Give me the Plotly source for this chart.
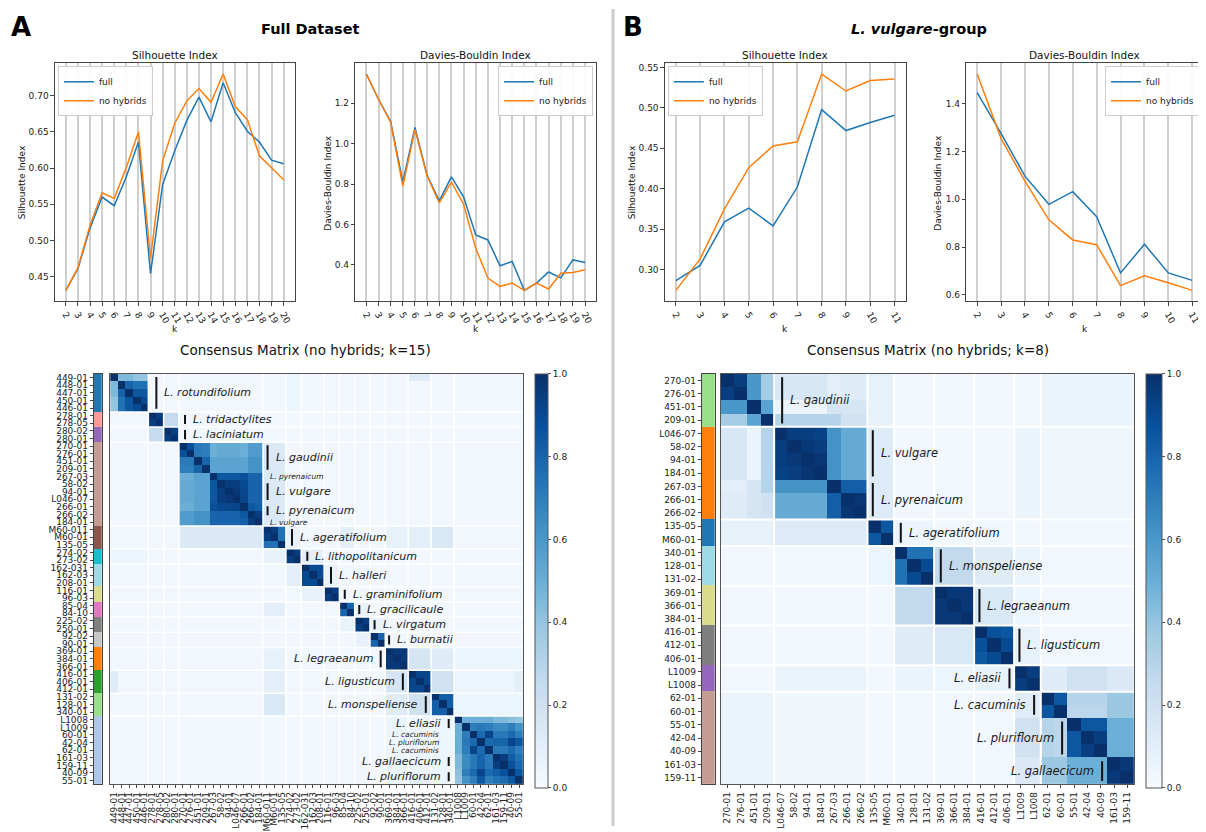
import numpy as np
import plotly.graph_objects as go

# ---------------- line-chart data ----------------
k_full = list(range(2, 21))
sil_full_A = [0.431, 0.461, 0.517, 0.560, 0.548, 0.588, 0.636, 0.454, 0.577, 0.624, 0.666, 0.698, 0.664, 0.718,
              0.677, 0.651, 0.636, 0.611, 0.606]
sil_nohyb_A = [0.431, 0.462, 0.521, 0.566, 0.558, 0.601, 0.650, 0.475, 0.610, 0.662, 0.693, 0.710, 0.691, 0.730,
               0.685, 0.667, 0.617, 0.601, 0.584]
db_full_A = [1.345, 1.220, 1.110, 0.810, 1.080, 0.843, 0.717, 0.835, 0.737, 0.548, 0.523, 0.395, 0.416, 0.273,
             0.309, 0.364, 0.335, 0.424, 0.411]
db_nohyb_A = [1.345, 1.220, 1.105, 0.790, 1.070, 0.840, 0.707, 0.810, 0.700, 0.482, 0.334, 0.293, 0.309, 0.273,
              0.309, 0.280, 0.358, 0.362, 0.375]

k_vulg = list(range(2, 12))
sil_full_B = [0.286, 0.305, 0.359, 0.376, 0.354, 0.402, 0.498, 0.472, 0.482, 0.491]
sil_nohyb_B = [0.274, 0.313, 0.375, 0.426, 0.453, 0.458, 0.542, 0.521, 0.534, 0.536]
db_full_B = [1.446, 1.276, 1.097, 0.979, 1.032, 0.927, 0.692, 0.812, 0.692, 0.661]
db_nohyb_B = [1.524, 1.255, 1.076, 0.914, 0.830, 0.810, 0.639, 0.680, 0.651, 0.619]

# ---------------- consensus matrix A (k=15) ----------------
labels_A = ["449-01", "448-01", "447-01", "450-01", "446-01", "278-01", "278-05", "280-02", "280-01",
            "270-01", "276-01", "451-01", "209-01", "267-03", "58-02", "94-01", "L046-07", "266-01", "266-02",
            "184-01", "M60-011", "M60-01", "135-05", "274-02", "273-02", "162-031", "162-03", "208-01",
            "116-01", "96-03", "85-04", "84-10", "225-02", "250-01", "92-02", "90-01", "369-01", "384-01",
            "366-01", "416-01", "406-01", "412-01", "131-02", "128-01", "340-01", "L1008", "L1009", "60-01",
            "42-04", "62-01", "161-03", "159-11", "40-09", "55-01"]
sizes_A = [5, 2, 2, 11, 3, 2, 3, 2, 2, 2, 2, 3, 3, 3, 9]
base_A = 0.03
within_A = {
    0: [[1.00, 0.45, 0.45, 0.40, 0.40], [0.45, 1.00, 0.80, 0.75, 0.75], [0.45, 0.80, 1.00, 0.85, 0.85],
        [0.40, 0.75, 0.85, 1.00, 0.90], [0.40, 0.75, 0.85, 0.90, 1.00]],
    1: (1.0, 0.95), 2: (1.0, 0.95),
    3: [[1.00, 0.88, 0.72, 0.70, 0.50, 0.52, 0.52, 0.52, 0.50, 0.58, 0.58],
        [0.88, 1.00, 0.72, 0.70, 0.50, 0.52, 0.52, 0.52, 0.50, 0.58, 0.58],
        [0.72, 0.72, 1.00, 0.80, 0.55, 0.55, 0.55, 0.55, 0.55, 0.62, 0.62],
        [0.70, 0.70, 0.80, 1.00, 0.55, 0.55, 0.55, 0.55, 0.55, 0.62, 0.62],
        [0.50, 0.50, 0.55, 0.55, 1.00, 0.85, 0.85, 0.85, 0.88, 0.80, 0.80],
        [0.52, 0.52, 0.55, 0.55, 0.85, 1.00, 0.95, 0.95, 0.90, 0.80, 0.80],
        [0.52, 0.52, 0.55, 0.55, 0.85, 0.95, 1.00, 0.97, 0.92, 0.80, 0.80],
        [0.52, 0.52, 0.55, 0.55, 0.85, 0.95, 0.97, 1.00, 0.92, 0.80, 0.80],
        [0.50, 0.50, 0.55, 0.55, 0.88, 0.90, 0.92, 0.92, 1.00, 0.85, 0.82],
        [0.58, 0.58, 0.62, 0.62, 0.80, 0.80, 0.80, 0.80, 0.85, 1.00, 0.95],
        [0.58, 0.58, 0.62, 0.62, 0.80, 0.80, 0.80, 0.80, 0.82, 0.95, 1.00]],
    4: [[1.0, 0.95, 0.75], [0.95, 1.0, 0.75], [0.75, 0.75, 1.0]],
    5: (1.0, 0.95), 6: (1.0, 0.90), 7: (1.0, 0.95), 8: (1.0, 0.80), 9: (1.0, 0.95), 10: (1.0, 0.80),
    11: (1.0, 0.97), 12: (1.0, 0.92), 13: (1.0, 0.82),
    14: [[1.00, 0.50, 0.50, 0.50, 0.50, 0.45, 0.45, 0.42, 0.40],
         [0.50, 1.00, 0.70, 0.72, 0.70, 0.65, 0.65, 0.70, 0.62],
         [0.50, 0.70, 1.00, 0.78, 0.92, 0.72, 0.72, 0.78, 0.70],
         [0.50, 0.72, 0.78, 1.00, 0.78, 0.80, 0.80, 0.92, 0.85],
         [0.50, 0.70, 0.92, 0.78, 1.00, 0.72, 0.72, 0.78, 0.70],
         [0.45, 0.65, 0.72, 0.80, 0.72, 1.00, 0.95, 0.82, 0.75],
         [0.45, 0.65, 0.72, 0.80, 0.72, 0.95, 1.00, 0.88, 0.78],
         [0.42, 0.70, 0.78, 0.92, 0.78, 0.82, 0.88, 1.00, 0.85],
         [0.40, 0.62, 0.70, 0.85, 0.70, 0.75, 0.78, 0.85, 1.00]],
}
between_A = {(1, 2): 0.25, (3, 4): 0.14, (4, 5): 0.07, (5, 6): 0.10, (6, 7): 0.07, (4, 8): 0.10, (8, 9): 0.07,
             (9, 10): 0.07, (11, 12): 0.17, (11, 13): 0.12, (12, 13): 0.20, (4, 11): 0.08, (4, 12): 0.10,
             (4, 13): 0.15, (12, 14): 0.05, (13, 14): 0.05, (11, 14): 0.05, (0, 5): 0.05}
overrides_A = [("449-01", 12, 0.12), ("55-01", 12, 0.10)]

# name, first row, last row, bar column (cell edges), side, size
notes_A = [("L. rotundifolium", 0, 4, 6.05, "r", "big"), ("L. tridactylites", 5, 6, 9.8, "r", "big"),
           ("L. laciniatum", 7, 8, 9.8, "r", "big"), ("L. gaudinii", 9, 12, 20.6, "r", "big"),
           ("L. pyrenaicum", 13, 13, 20.6, "r", "small"), ("L. vulgare", 14, 16, 20.6, "r", "big"),
           ("L. pyrenaicum", 17, 18, 20.6, "r", "big"), ("L. vulgare", 19, 19, 20.6, "r", "small"),
           ("L. ageratifolium", 20, 22, 23.8, "r", "big"), ("L. lithopolitanicum", 23, 24, 25.8, "r", "big"),
           ("L. halleri", 25, 27, 28.9, "r", "big"), ("L. graminifolium", 28, 29, 30.7, "r", "big"),
           ("L. gracilicaule", 30, 31, 32.6, "r", "big"), ("L. virgatum", 32, 33, 34.6, "r", "big"),
           ("L. burnatii", 34, 35, 36.5, "r", "big"), ("L. legraeanum", 36, 38, 35.4, "l", "big"),
           ("L. ligusticum", 39, 41, 38.3, "l", "big"), ("L. monspeliense", 42, 44, 41.3, "l", "big"),
           ("L. eliasii", 45, 46, 44.3, "l", "big"), ("L. cacuminis", 47, 47, 44.3, "l", "small"),
           ("L. pluriflorum", 48, 48, 44.3, "l", "small"), ("L. cacuminis", 49, 49, 44.3, "l", "small"),
           ("L. gallaecicum", 50, 51, 44.3, "l", "big"), ("L. pluriflorum", 52, 53, 44.3, "l", "big")]

# ---------------- consensus matrix B (k=8) ----------------
labels_B = ["270-01", "276-01", "451-01", "209-01", "L046-07", "58-02", "94-01", "184-01", "267-03", "266-01",
            "266-02", "135-05", "M60-01", "340-01", "128-01", "131-02", "369-01", "366-01", "384-01", "416-01",
            "412-01", "406-01", "L1009", "L1008", "62-01", "60-01", "55-01", "42-04", "40-09", "161-03", "159-11"]
sizes_B = [4, 7, 2, 3, 3, 3, 2, 7]
base_B = 0.03
within_B = {
    0: [[1.00, 0.95, 0.60, 0.35], [0.95, 1.00, 0.60, 0.35], [0.60, 0.60, 1.00, 0.55], [0.35, 0.35, 0.55, 1.00]],
    1: [[1.00, 0.95, 0.95, 0.93, 0.62, 0.52, 0.52],
        [0.95, 1.00, 0.97, 0.95, 0.62, 0.52, 0.52],
        [0.95, 0.97, 1.00, 0.98, 0.62, 0.52, 0.52],
        [0.93, 0.95, 0.98, 1.00, 0.62, 0.52, 0.52],
        [0.62, 0.62, 0.62, 0.62, 1.00, 0.82, 0.82],
        [0.52, 0.52, 0.52, 0.52, 0.82, 1.00, 0.98],
        [0.52, 0.52, 0.52, 0.52, 0.82, 0.98, 1.00]],
    2: [[1.0, 0.85], [0.85, 1.0]],
    3: [[1.0, 0.75, 0.75], [0.75, 1.0, 0.90], [0.75, 0.90, 1.0]],
    4: (1.0, 0.97),
    5: [[1.0, 0.88, 0.85], [0.88, 1.0, 0.90], [0.85, 0.90, 1.0]],
    6: (1.0, 0.95),
    7: [[1.00, 0.85, 0.30, 0.30, 0.30, 0.38, 0.38],
        [0.85, 1.00, 0.28, 0.28, 0.28, 0.38, 0.38],
        [0.30, 0.28, 1.00, 0.85, 0.85, 0.50, 0.50],
        [0.30, 0.28, 0.85, 1.00, 0.95, 0.50, 0.50],
        [0.30, 0.28, 0.85, 0.95, 1.00, 0.50, 0.50],
        [0.38, 0.38, 0.50, 0.50, 0.50, 1.00, 0.97],
        [0.38, 0.38, 0.50, 0.50, 0.50, 0.97, 1.00]],
}
between_B = {
    (0, 1): [[0.16, 0.16, 0.16, 0.16, 0.10, 0.12, 0.12], [0.16, 0.16, 0.16, 0.16, 0.10, 0.12, 0.12],
             [0.06, 0.06, 0.06, 0.06, 0.17, 0.17, 0.17], [0.30, 0.30, 0.30, 0.30, 0.30, 0.20, 0.20]],
    (0, 2): 0.08, (1, 2): 0.13, (0, 7): 0.06, (1, 6): 0.06, (1, 7): 0.04, (2, 3): 0.05, (3, 4): 0.26,
    (3, 5): 0.12, (3, 6): 0.06, (4, 5): 0.15, (4, 6): 0.05, (5, 6): 0.08,
    (6, 7): [[0.12, 0.12, 0.20, 0.20, 0.20, 0.14, 0.14], [0.12, 0.12, 0.20, 0.20, 0.20, 0.14, 0.14]],
}
notes_B = [("L. gaudinii", 0, 3, 4.6, "r"), ("L. vulgare", 4, 7, 11.4, "r"), ("L. pyrenaicum", 8, 10, 11.4, "r"),
           ("L. ageratifolium", 11, 12, 13.5, "r"), ("L. monspeliense", 13, 15, 16.5, "r"),
           ("L. legraeanum", 16, 18, 19.4, "r"), ("L. ligusticum", 19, 21, 22.4, "r"),
           ("L. eliasii", 22, 23, 21.65, "l"), ("L. cacuminis", 24, 25, 23.5, "l"),
           ("L. pluriflorum", 26, 28, 25.6, "l"), ("L. gallaecicum", 29, 30, 28.6, "l")]

# ---------------- styles ----------------
strip_colors_A = ["#1f77b4", "#ff9896", "#9467bd", "#c49c94", "#8c564b", "#17becf", "#9edae5", "#dbdb8d",
                  "#e377c2", "#7f7f7f", "#c7c7c7", "#ff7f0e", "#2ca02c", "#98df8a", "#aec7e8"]
strip_colors_B = ["#98df8a", "#ff7f0e", "#1f77b4", "#9edae5", "#dbdb8d", "#7f7f7f", "#9467bd", "#c49c94"]
BLUES = ['#f7fbff', '#deebf7', '#c6dbef', '#9ecae1', '#6baed6', '#4292c6', '#2171b5', '#08519c', '#08306b']
blues_scale = [[i / 8, c] for i, c in enumerate(BLUES)]
C_FULL, C_NOH = "#1f77b4", "#ff7f0e"
FONT = "DejaVu Sans"
OFF = 8  # page body margin
W, H = 1206 - OFF, 832 - OFF


def px(x):
    return (x - OFF) / W


def py(y):
    return 1 - (y - OFF) / H


def consensus(sizes, within, between, base, labels, overrides=()):
    n = sum(sizes)
    st = np.concatenate([[0], np.cumsum(sizes)]).astype(int)
    M = np.full((n, n), base, dtype=float)
    for (a, b), v in between.items():
        blk = np.broadcast_to(np.asarray(v, float), (sizes[a], sizes[b]))
        M[st[a]:st[a + 1], st[b]:st[b + 1]] = blk
        M[st[b]:st[b + 1], st[a]:st[a + 1]] = blk.T
    for g, v in within.items():
        if isinstance(v, tuple):
            blk = np.full((sizes[g], sizes[g]), v[1])
            np.fill_diagonal(blk, v[0])
        else:
            blk = np.asarray(v, float)
        M[st[g]:st[g + 1], st[g]:st[g + 1]] = blk
    for lab, g, v in overrides:
        i = labels.index(lab)
        M[i, st[g]:st[g + 1]] = v
        M[st[g]:st[g + 1], i] = v
    return M, st


def discrete(colors):
    n = len(colors)
    cs = []
    for i, c in enumerate(colors):
        cs += [[i / n, c], [(i + 1) / n, c]]
    return cs


def padded(*series):
    vals = np.concatenate([np.asarray(s, float) for s in series])
    lo, hi = vals.min(), vals.max()
    m = 0.05 * (hi - lo)
    return [lo - m, hi + m]


def ptext(text, x, y, size, color="#111", angle=0):
    return dict(text=text, x=px(x), y=py(y), xref="paper", yref="paper", showarrow=False, xanchor="center",
                yanchor="middle", textangle=angle, font=dict(size=size, color=color, family=FONT))


MA, stA = consensus(sizes_A, within_A, between_A, base_A, labels_A, overrides_A)
MB, stB = consensus(sizes_B, within_B, between_B, base_B, labels_B)

fig = go.Figure()
annotations = []
shapes = []

# ---------------- line charts ----------------
line_panels = [
    ("", k_full, sil_full_A, sil_nohyb_A, 54, 294, "legend", "l", "Silhouette Index", "Silhouette Index", ".2f", 21),
    ("2", k_full, db_full_A, db_nohyb_A, 355, 596, "legend2", "r", "Davies-Bouldin Index", "Davies-Bouldin Index",
     ".1f", 328),
    ("3", k_vulg, sil_full_B, sil_nohyb_B, 665, 906, "legend3", "l", "Silhouette Index", "Silhouette Index", ".2f",
     632),
    ("4", k_vulg, db_full_B, db_nohyb_B, 967, 1204, "legend4", "r", "Davies-Bouldin Index", "Davies-Bouldin Index",
     ".1f", 939),
]
ytick_sets = [
    [0.45, 0.50, 0.55, 0.60, 0.65, 0.70],
    [0.4, 0.6, 0.8, 1.0, 1.2],
    [0.30, 0.35, 0.40, 0.45, 0.50, 0.55],
    [0.6, 0.8, 1.0, 1.2, 1.4],
]
TOP, BOT = 62.7, 302.7
legend_layouts = {}
for (suf, ks, full, noh, x0, x1, leg, side, title, ylab, fmt, ylx), yt in zip(line_panels, ytick_sets):
    xa = "x" + suf
    ya = "y" + suf
    fig.add_trace(go.Scatter(x=ks, y=full, mode="lines", name="full", line=dict(color=C_FULL, width=1.5),
                             xaxis=xa, yaxis=ya, legend=leg, hoverinfo="skip"))
    fig.add_trace(go.Scatter(x=ks, y=noh, mode="lines", name="no hybrids", line=dict(color=C_NOH, width=1.5),
                             xaxis=xa, yaxis=ya, legend=leg, hoverinfo="skip"))
    xr = padded(ks)
    yr = padded(full, noh)
    fig.layout["xaxis" + suf] = dict(domain=[px(x0), px(x1)], range=xr, anchor=ya, tickvals=ks,
                                     ticktext=[str(k) for k in ks], tickangle=60, showgrid=True,
                                     gridcolor="#cfcfcf", gridwidth=1.5, zeroline=False, showline=True,
                                     mirror=True, linecolor="#444", linewidth=1, ticks="outside", ticklen=3.5,
                                     tickcolor="#444", tickfont=dict(size=9, color="#222", family=FONT))
    fig.layout["yaxis" + suf] = dict(domain=[py(BOT), py(TOP)], range=yr, anchor=xa, tickvals=yt,
                                     ticktext=[format(v, fmt) for v in yt], showgrid=False, zeroline=False,
                                     showline=True, mirror=True, linecolor="#444", linewidth=1, ticks="outside",
                                     ticklen=3.5, tickcolor="#444", tickfont=dict(size=9, color="#222", family=FONT))
    cx = (x0 + x1) / 2
    annotations.append(ptext(title, cx, 54, 10.5))
    annotations.append(ptext("k", cx, 331, 9))
    annotations.append(ptext(ylab, ylx, (TOP + BOT) / 2, 9, angle=-90))
    if side == "l":
        lx, xanc = px(x0 + 3), "left"
    else:
        lx, xanc = px(x1 - 3), "right"
    legend_layouts[leg] = dict(x=lx, y=py(TOP + 3), xanchor=xanc, yanchor="top", bgcolor="rgba(255,255,255,0.9)",
                               bordercolor="#cccccc", borderwidth=1, font=dict(size=9, color="#222", family=FONT),
                               itemwidth=30, tracegroupgap=0)
fig.update_layout(**legend_layouts)


# ---------------- heatmaps ----------------
def add_matrix(M, st, labels, strip_colors, hx, sx, hm_ax, strip_ax, cb_x, cb_th, sep_w):
    n = len(labels)
    idx = list(range(n))
    groups = np.repeat(np.arange(len(st) - 1), np.diff(st))
    hxs, hys = hm_ax
    sxs, sys_ = strip_ax
    fig.add_trace(go.Heatmap(z=M, x=idx, y=idx, colorscale=blues_scale, zmin=0, zmax=1,
                             xaxis="x" + hxs, yaxis="y" + hys, hoverinfo="skip",
                             colorbar=dict(x=px(cb_x), xanchor="left", y=py(376), yanchor="top", len=414,
                                           lenmode="pixels", thickness=cb_th, thicknessmode="pixels", xpad=0,
                                           ypad=0, outlinewidth=1, outlinecolor="#555",
                                           tickvals=[0, 0.2, 0.4, 0.6, 0.8, 1.0],
                                           ticktext=["0.0", "0.2", "0.4", "0.6", "0.8", "1.0"],
                                           ticks="outside", ticklen=3, tickcolor="#555",
                                           tickfont=dict(size=9, color="#222", family=FONT))))
    fig.add_trace(go.Heatmap(z=[[g] for g in groups], x=[0], y=idx, colorscale=discrete(strip_colors),
                             zmin=-0.5, zmax=len(strip_colors) - 0.5, showscale=False,
                             xaxis="x" + sxs, yaxis="y" + sys_, hoverinfo="skip"))
    dom_y = [py(790), py(376)]
    fig.layout["xaxis" + hxs] = dict(domain=[px(hx[0]), px(hx[1])], range=[-0.5, n - 0.5], anchor="y" + hys,
                                     tickvals=idx, ticktext=labels, tickangle=-90, ticks="outside", ticklen=3,
                                     tickcolor="#444", showgrid=False, zeroline=False, showline=True, mirror=True,
                                     linecolor="#555", tickfont=dict(size=9, color="#222", family=FONT))
    fig.layout["yaxis" + hys] = dict(domain=dom_y, range=[n - 0.5, -0.5], anchor="x" + hxs, showticklabels=False,
                                     showgrid=False, zeroline=False, showline=True, mirror=True, linecolor="#555")
    fig.layout["xaxis" + sxs] = dict(domain=[px(sx[0]), px(sx[1])], range=[-0.5, 0.5], anchor="y" + sys_,
                                     showticklabels=False, showgrid=False, zeroline=False, showline=True,
                                     mirror=True, linecolor="#444")
    fig.layout["yaxis" + sys_] = dict(domain=dom_y, range=[n - 0.5, -0.5], anchor="x" + sxs, tickvals=idx,
                                      ticktext=labels, ticks="outside", ticklen=3, tickcolor="#444",
                                      showgrid=False, zeroline=False, showline=True, mirror=True, linecolor="#444",
                                      tickfont=dict(size=9, color="#222", family=FONT))
    for b in st[1:-1]:
        shapes.append(dict(type="line", xref="x" + hxs, yref="y" + hys, x0=b - 0.5, x1=b - 0.5, y0=-0.5,
                           y1=n - 0.5, line=dict(color="white", width=sep_w)))
        shapes.append(dict(type="line", xref="x" + hxs, yref="y" + hys, y0=b - 0.5, y1=b - 0.5, x0=-0.5,
                           x1=n - 0.5, line=dict(color="white", width=sep_w)))


add_matrix(MA, stA, labels_A, strip_colors_A, (109.3, 522.7), (93, 101), ("5", "5"), ("6", "6"), 535, 13, 1.5)
add_matrix(MB, stB, labels_B, strip_colors_B, (721, 1135), (702, 715), ("7", "7"), ("8", "8"), 1147, 16, 2)


def add_note(text, r0, r1, bar, side, size, ax, inset, show_bar=True, gap=6):
    xb = bar - 0.5
    yc = (r0 + r1) / 2
    if show_bar:
        shapes.append(dict(type="line", xref="x" + ax, yref="y" + ax, x0=xb, x1=xb, y0=r0 - 0.5 + inset,
                           y1=r1 + 0.5 - inset, line=dict(color="#111", width=2)))
    annotations.append(dict(text="<i>%s</i>" % text, x=xb, y=yc, xref="x" + ax, yref="y" + ax, showarrow=False,
                            xanchor="left" if side == "r" else "right", yanchor="middle",
                            xshift=gap if side == "r" else -gap,
                            font=dict(size=size, color="#1a1a1a", family=FONT)))


for text, r0, r1, bar, side, kind in notes_A:
    add_note(text, r0, r1, bar, side, 11 if kind == "big" else 7.5, "5", 0.4, show_bar=(kind == "big"),
             gap=6 if kind == "big" else (0 if side == "r" else 8))
for text, r0, r1, bar, side in notes_B:
    add_note(text, r0, r1, bar, side, 11.5, "7", 0.25)

# ---------------- headers ----------------
annotations += [
    ptext("<b>A</b>", 20, 26, 26, color="black"),
    ptext("<b>B</b>", 633, 26, 26, color="black"),
    ptext("<b>Full Dataset</b>", 310, 28, 14.5, color="black"),
    ptext("<b><i>L. vulgare</i>-group</b>", 920, 28, 14.5, color="black"),
    ptext("Consensus Matrix (no hybrids; k=15)", 305, 352, 13.5),
    ptext("Consensus Matrix (no hybrids; k=8)", 929, 352, 13.5),
]
shapes.append(dict(type="line", xref="paper", yref="paper", x0=px(613), x1=px(613), y0=0, y1=1,
                   line=dict(color="#cccccc", width=3)))

fig.update_layout(width=W, height=H, margin=dict(l=0, r=0, t=0, b=0), paper_bgcolor="white",
                  plot_bgcolor="white", font=dict(family=FONT, color="#222"), annotations=annotations,
                  shapes=shapes, showlegend=True)
fig.write_html("out.html")
